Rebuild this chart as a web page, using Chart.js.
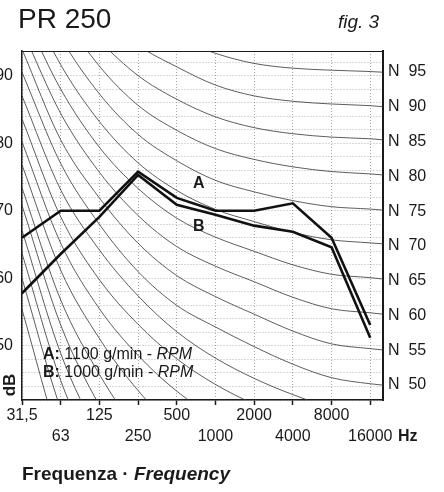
<!DOCTYPE html>
<html>
<head>
<meta charset="utf-8">
<script src="https://cdn.jsdelivr.net/npm/chart.js@4.4.0/dist/chart.umd.min.js"></script>
<style>
html,body{margin:0;padding:0;background:#fff;overflow:hidden}
canvas{display:block}
</style>
</head>
<body>
<canvas id="c" width="444" height="492"></canvas>
<script>
// ---- data ----
const freqLabels = ['31,5','63','125','250','500','1000','2000','4000','8000','16000'];
const octavePos = [0,1,2,3,4,5,6,7,8,9];
const nrPos = [0,1,2,3,4,5,6,7,8,9,9.33];

const seriesA = [66.0, 70.0, 70.0, 75.8, 71.9, 70.0, 70.0, 71.1, 66.0, 53.1];
const seriesB = [57.8, 63.6, 69.1, 75.3, 70.9, 69.4, 67.8, 66.9, 64.6, 51.2];

const yGridValues = [42,44,46,48,50,52,54,56,58,60,62,64,66,68,70,72,74,76,78,80,82,84,86,88,90,92];
const yLabelValues = [50,60,70,80,90];
const nTicks = [50,55,60,65,70,75,80,85,90,95];

// Noise-rating curves, values at 31,5 ... 16000 Hz and right edge (dB)
const nr0  = [55.4, 35.5, 22.0, 12.0, 4.8, 0.0, -3.5, -6.1, -8.0, -9.0, -9.5];
const nr5  = [60.0, 40.7, 27.6, 17.9, 10.9, 6.2, 2.8, 0.2, -1.7, -2.7, -3.2];
const nr10 = [63.7, 44.9, 32.2, 22.8, 16.0, 11.5, 8.2, 5.7, 3.8, 2.8, 2.3];
const nr15 = [67.1, 48.9, 36.6, 27.5, 20.9, 16.5, 13.2, 10.8, 9.0, 8.0, 7.5];
const nr20 = [70.8, 53.1, 41.2, 32.4, 26.1, 21.8, 18.6, 16.2, 14.4, 13.4, 12.9];
const nr25 = [73.4, 56.8, 45.8, 37.3, 31.2, 27.0, 23.9, 21.5, 19.8, 18.8, 18.3];
const nr30 = [76.8, 61.2, 51.1, 43.4, 37.5, 33.5, 30.5, 28.2, 26.4, 25.4, 24.9];
const nr35 = [80.2, 65.2, 55.5, 48.6, 43.3, 39.4, 36.4, 34.2, 32.5, 31.5, 31.0];
const nr40 = [83.6, 69.1, 59.8, 53.2, 48.1, 44.3, 41.4, 39.2, 37.5, 36.5, 36.0];
const nr45 = [87.0, 73.1, 64.2, 57.4, 52.1, 48.2, 45.2, 42.8, 40.9, 40.0, 39.6];
const nr50 = [90.5, 77.0, 68.0, 61.0, 56.0, 52.8, 49.9, 47.3, 45.3, 44.4, 44.2];
const nr55 = [93.9, 80.5, 71.9, 65.2, 60.4, 57.3, 54.7, 52.2, 50.3, 49.6, 49.4];
const nr60 = [96.8, 84.4, 75.7, 69.3, 64.7, 61.8, 59.5, 57.2, 55.5, 54.9, 54.7];
const nr65 = [99.7, 88.0, 79.4, 73.3, 68.9, 66.1, 64.0, 62.0, 60.6, 60.1, 59.9];
const nr70 = [103.1, 91.6, 83.2, 77.1, 73.0, 70.2, 68.4, 66.8, 65.7, 65.25, 65.1];
const nr75 = [106.5, 95.6, 87.3, 81.3, 77.4, 74.5, 72.8, 71.5, 70.6, 70.25, 70.1];
const nr80 = [109.9, 99.5, 91.4, 85.6, 81.9, 79.2, 77.6, 76.5, 75.8, 75.45, 75.3];
const nr85 = [113.3, 102.7, 95.3, 90.0, 86.5, 83.9, 82.3, 81.4, 80.9, 80.65, 80.5];
const nr90 = [116.7, 106.6, 99.5, 94.5, 91.3, 88.6, 87.0, 86.2, 85.8, 85.55, 85.4];
const nr95 = [120.1, 110.6, 103.7, 98.9, 95.6, 93.3, 91.8, 91.1, 90.8, 90.6, 90.5];
const nrCurves = [nr0,nr5,nr10,nr15,nr20,nr25,nr30,nr35,nr40,nr45,nr50,nr55,nr60,nr65,nr70,nr75,nr80,nr85,nr90,nr95];

// ---- chart ----
const FF = '"Liberation Sans", Arial, Helvetica, sans-serif';
Chart.defaults.font.family = FF;
const INK = '#1a1a1a';

const datasets = [
  { label: 'A', data: octavePos.map((x, i) => ({x, y: seriesA[i]})), borderColor: '#111', borderWidth: 2.6,
    pointRadius: 0, tension: 0, order: 0 },
  { label: 'B', data: octavePos.map((x, i) => ({x, y: seriesB[i]})), borderColor: '#111', borderWidth: 2.6,
    pointRadius: 0, tension: 0, order: 0 }
];
nrCurves.forEach(c => datasets.push({
  label: 'NR', data: nrPos.map((x, i) => ({x, y: c[i]})), borderColor: '#333', borderWidth: 0.8,
  pointRadius: 0, cubicInterpolationMode: 'monotone', order: 1
}));

const textPlugin = {
  id: 'texts',
  afterDraw(chart) {
    const ctx = chart.ctx, ca = chart.chartArea;
    const xs = chart.scales.x, ys = chart.scales.y;
    ctx.save();
    ctx.strokeStyle = INK; ctx.lineWidth = 1.2;
    ctx.beginPath(); ctx.moveTo(ca.left, ca.top + 0.5); ctx.lineTo(ca.right, ca.top + 0.5); ctx.stroke();

    ctx.fillStyle = INK;
    ctx.textAlign = 'left';
    ctx.textBaseline = 'alphabetic';
    ctx.font = '28px ' + FF;
    ctx.fillText('PR 250', 18, 28);
    ctx.font = 'italic 19px ' + FF;
    ctx.fillText('fig. 3', 338, 28);

    ctx.textBaseline = 'middle';
    ctx.textAlign = 'center';
    ctx.font = 'bold 16px ' + FF;
    ctx.fillText('A', xs.getPixelForValue(4.57), ys.getPixelForValue(74.0));
    ctx.fillText('B', xs.getPixelForValue(4.57), ys.getPixelForValue(67.6));

    ctx.textAlign = 'left';
    const rich = (x, y, parts) => {
      for (const [t, f] of parts) { ctx.font = f; ctx.fillText(t, x, y); x += ctx.measureText(t).width; }
    };
    rich(43, 355, [['A:', 'bold 16px ' + FF], [' 1100 g/min - ', '16px ' + FF], ['RPM', 'italic 16px ' + FF]]);
    rich(43, 373, [['B:', 'bold 16px ' + FF], [' 1000 g/min - ', '16px ' + FF], ['RPM', 'italic 16px ' + FF]]);

    ctx.font = 'bold 16px ' + FF;
    ctx.fillText('Hz', 398, 436.5);

    rich(22, 475, [['Frequenza · ', 'bold 19px ' + FF], ['Frequency', 'italic bold 19px ' + FF]]);

    ctx.save();
    ctx.translate(10, 385);
    ctx.rotate(-Math.PI / 2);
    ctx.textAlign = 'center';
    ctx.font = 'bold 17px ' + FF;
    ctx.fillText('dB', 0, 0);
    ctx.restore();
    ctx.restore();
  }
};

new Chart(document.getElementById('c'), {
  type: 'line',
  data: { datasets },
  options: {
    responsive: false,
    animation: false,
    devicePixelRatio: 1,
    layout: { padding: { top: 51, left: 0, right: 0, bottom: 0 } },
    plugins: { legend: { display: false }, tooltip: { enabled: false } },
    scales: {
      x: {
        type: 'linear', min: 0, max: 9.33,
        afterBuildTicks: s => { s.ticks = octavePos.map(v => ({value: v})); },
        afterFit: s => { s.height = 92; },
        ticks: {
          autoSkip: false, maxRotation: 0, minRotation: 0, padding: 0, color: INK,
          font: { size: 16, lineHeight: 1.3125 },
          callback: v => { const i = Math.round(v); return i % 2 === 0 ? [freqLabels[i], ''] : ['', freqLabels[i]]; }
        },
        grid: { color: 'rgba(0,0,0,0.35)', lineWidth: 1, drawTicks: true, tickLength: 5, tickColor: INK, tickWidth: 1.5, tickBorderDash: [] },
        border: { display: true, color: INK, width: 1.5, dash: [1, 2] }
      },
      y: {
        type: 'linear', position: 'left', min: 42, max: 93.64,
        afterBuildTicks: s => { s.ticks = yGridValues.map(v => ({value: v})); },
        afterFit: s => { s.width = 22; },
        ticks: { autoSkip: false, padding: 9, color: INK, font: { size: 16 },
          callback: v => yLabelValues.includes(v) ? String(v) : '' },
        grid: { drawTicks: false, color: 'rgba(0,0,0,0.3)', lineWidth: 1 },
        border: { display: true, color: INK, width: 1.5, dash: [1, 2] }
      },
      y2: {
        type: 'linear', position: 'right', min: 47.84, max: 98.02,
        afterBuildTicks: s => { s.ticks = nTicks.map(v => ({value: v})); },
        afterFit: s => { s.width = 61; },
        ticks: { autoSkip: false, padding: 5, color: INK, font: { size: 16 }, callback: v => 'N  ' + v },
        grid: { display: false, drawOnChartArea: false, drawTicks: false },
        border: { display: true, color: INK, width: 2 }
      }
    }
  },
  plugins: [textPlugin]
});
</script>
</body>
</html>
